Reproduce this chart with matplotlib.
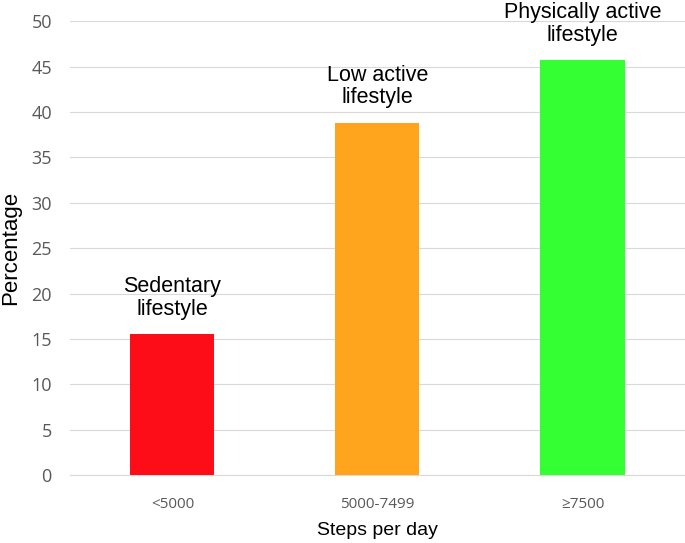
import matplotlib.pyplot as plt

categories = ['<5000', '5000-7499', '≥7500']
values = [15.5, 38.8, 45.7]
labels = ['Sedentary\nlifestyle', 'Low active\nlifestyle', 'Physically active\nlifestyle']
colors = ['#fc0d17', '#ffa41c', '#33ff33']

fig = plt.figure(figsize=(6.85, 5.43), dpi=100)
ax = fig.add_axes([0.102, 0.125, 0.898, 0.836])

x = range(len(categories))
bars = ax.bar(x, values, width=0.41, color=colors, zorder=3)

# labels above the bars
for xi, v, t in zip(x, values, labels):
    ax.annotate(t, (xi, v), xytext=(0, 10.5), textcoords='offset points',
                ha='center', va='bottom', fontsize=15.5, family='Liberation Sans',
                linespacing=1.1)

ax.set_xlim(-0.5, 2.5)
ax.set_ylim(0, 50)
ax.set_yticks(range(0, 51, 5))
ax.set_xticks(list(x))
ax.set_xticklabels(categories)
ax.grid(axis='y', color='#d9d9d9', linewidth=0.8, zorder=0)
for s in ['top', 'right', 'left']:
    ax.spines[s].set_visible(False)
ax.spines['bottom'].set_color('#d9d9d9')
ax.tick_params(length=0, labelcolor='#595959')
ax.tick_params(axis='y', labelsize=13, pad=13)
ax.tick_params(axis='x', labelsize=11, pad=16)
for lab in ax.get_xticklabels() + ax.get_yticklabels():
    lab.set_family('Open Sans')

ax.set_ylabel('Percentage', fontsize=16, family='Liberation Sans')
ax.yaxis.set_label_coords(-0.079, 0.5)
ax.set_xlabel('Steps per day', fontsize=14, family='Liberation Sans', labelpad=7)

fig.savefig('out.png', dpi=100)
